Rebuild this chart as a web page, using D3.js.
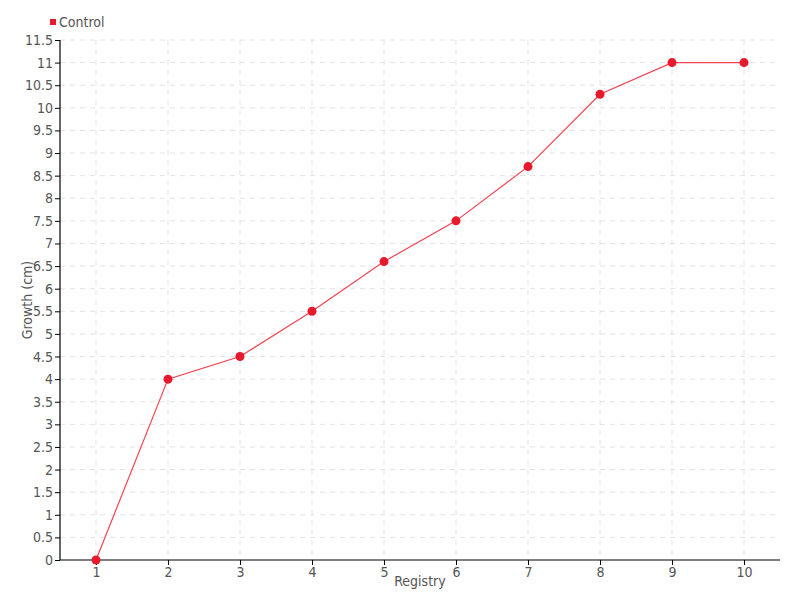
<!DOCTYPE html>
<html><head><meta charset="utf-8">
<script src="https://cdn.jsdelivr.net/npm/d3@7"></script>
<style>
body{margin:0;background:#fff;}
text{font-family:"DejaVu Sans Condensed","Roboto",sans-serif;}
</style></head>
<body><svg id="c" width="800" height="600"></svg>
<script>
const categories = [1,2,3,4,5,6,7,8,9,10];
const values = [0,4,4.5,5.5,6.6,7.5,8.7,10.3,11,11];
const yTicks = [0,0.5,1,1.5,2,2.5,3,3.5,4,4.5,5,5.5,6,6.5,7,7.5,8,8.5,9,9.5,10,10.5,11,11.5];
const seriesName = "Control";
const xTitle = "Registry";
const yTitle = "Growth (cm)";

const svg = d3.select("#c");
const L=60,R=780,T=40,B=560;
const x = d3.scaleLinear().domain([0.5,10.5]).range([L,R]);
const y = d3.scaleLinear().domain([0,11.5]).range([B,T]);
const red="#e8192c", lineRed="#f2434f", textC="#555";

// grid
const g = svg.append("g");
g.selectAll(".hg").data(yTicks.filter(d=>d>0)).enter().append("line")
 .attr("x1",L).attr("x2",R).attr("y1",d=>y(d)).attr("y2",d=>y(d))
 .attr("stroke","#e3e3e3").attr("stroke-dasharray","5,5");
g.selectAll(".vg").data(categories).enter().append("line")
 .attr("x1",d=>x(d)).attr("x2",d=>x(d)).attr("y1",T).attr("y2",B)
 .attr("stroke","#e3e3e3").attr("stroke-dasharray","5,5");

// axes
const fontSize="14px";
const ya = svg.append("g").attr("transform",`translate(${L},0)`)
 .call(d3.axisLeft(y).tickValues(yTicks).tickSize(5).tickPadding(2).tickFormat(d=>d));
const xa = svg.append("g").attr("transform",`translate(0,${B})`)
 .call(d3.axisBottom(x).tickValues(categories).tickSize(5).tickPadding(2).tickFormat(d=>d));
[ya,xa].forEach(a=>{
  a.select(".domain").attr("stroke","#000").attr("stroke-width",1.2);
  a.selectAll(".tick line").attr("stroke","#000");
  a.selectAll(".tick text").attr("fill",textC).style("font-size",fontSize).style("font-weight","300");
});
xa.select(".domain").attr("d",`M${L},0H${R}`);
ya.select(".domain").attr("d",`M0,${B}V${T}`);

// line
const line = d3.line().x((d,i)=>x(categories[i])).y(d=>y(d));
svg.append("path").datum(values).attr("d",line).attr("fill","none")
 .attr("stroke",lineRed).attr("stroke-width",1.2);
svg.selectAll(".pt").data(values).enter().append("circle")
 .attr("cx",(d,i)=>x(categories[i])).attr("cy",d=>y(d)).attr("r",4.5).attr("fill",red);

// titles
svg.append("text").attr("x",(L+R)/2).attr("y",586).attr("text-anchor","middle")
 .attr("fill",textC).style("font-size",fontSize).text(xTitle);
svg.append("text").attr("transform",`translate(32,${(T+B)/2}) rotate(-90)`).attr("text-anchor","middle")
 .attr("fill",textC).style("font-size",fontSize).text(yTitle);

// legend
svg.append("rect").attr("x",50).attr("y",19).attr("width",6).attr("height",6).attr("fill",red);
svg.append("text").attr("x",59).attr("y",27).attr("fill",textC).style("font-size",fontSize).text(seriesName);
</script></body></html>
